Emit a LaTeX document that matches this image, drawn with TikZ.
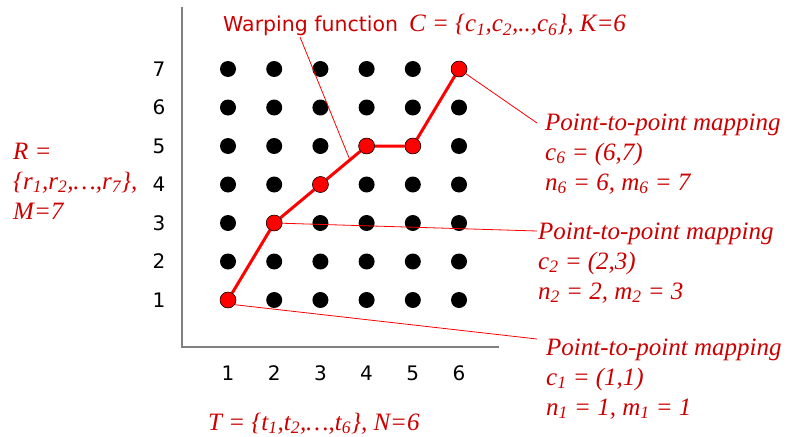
\documentclass[tikz,border=0pt]{standalone}
\usepackage{fontspec}
\setmainfont{Liberation Serif}
\newfontfamily\vsans{DejaVu Sans}
\definecolor{txtred}{RGB}{204,0,0}

\tikzset{
  gdot/.style={circle,fill=black,inner sep=0pt,minimum size=16pt},
  pdot/.style={circle,fill=red,draw=black,line width=0.5pt,inner sep=0pt,minimum size=16pt},
  numlbl/.style={font=\vsans\fontsize{20}{24}\selectfont,inner sep=0pt},
  mlabel/.style={text=txtred,font=\itshape\fontsize{25}{30}\selectfont,align=left,inner sep=0pt,anchor=base west},
  leader/.style={red,line width=0.8pt}
}

\begin{document}
\begin{tikzpicture}[x=1pt,y=-1pt]
	\useasboundingbox (0,0) rectangle (791,436);
	\draw[gray,line width=2pt] (182,7) -- (182,347) -- (499,347);
	% grid of time/reference pairs
	\foreach \i in {1,...,6}{
		\node[numlbl] (xl\i) at ({228+46.2*(\i-1)},373) {\i};
		\foreach \j in {1,...,7}
			\node[gdot] (p\i\j) at ({228+46.2*(\i-1)},{300-38.5*(\j-1)}) {};
	}
	\foreach \j in {1,...,7}
		\node[numlbl] (yl\j) at (159,{300-38.5*(\j-1)}) {\j};
	% warping path
	\draw[red,line width=3pt] (p11) -- (p23) -- (p34) -- coordinate[pos=0.69] (wf) (p45) -- (p55) -- (p67);
	\coordinate (wk) at (300,37);
	\coordinate (e6) at (537,123);
	\coordinate (e2) at (537,231);
	\coordinate (e1) at (537,339);
	\draw[leader] (wk) -- (wf);
	\draw[leader] (p67) -- (e6);
	\draw[leader] (p23) -- (e2);
	\draw[leader] (p11.-35) -- (e1);
	\foreach \p in {11,23,34,45,55,67}
		\node[pdot] (c\p) at (p\p) {};
	% labels (base = last line)
	\node[anchor=base west,text=txtred,inner sep=0pt] (warp) at (223,32)
		{{\vsans\fontsize{20.5}{24}\selectfont Warping function}\hspace{11pt}{\itshape\fontsize{25}{30}\selectfont C = \{c\textsubscript{1},c\textsubscript{2},..,c\textsubscript{6}\}, K=6}};
	\node[mlabel] (m6) at (545,190)
		{Point-to-point mapping\\ c\textsubscript{6} = (6,7)\\ n\textsubscript{6} = 6, m\textsubscript{6} = 7};
	\node[mlabel] (m2) at (538,299)
		{Point-to-point mapping\\ c\textsubscript{2} = (2,3)\\ n\textsubscript{2} = 2, m\textsubscript{2} = 3};
	\node[mlabel] (m1) at (546,415)
		{Point-to-point mapping\\ c\textsubscript{1} = (1,1)\\ n\textsubscript{1} = 1, m\textsubscript{1} = 1};
	\node[mlabel] (rset) at (13,219)
		{R =\\ \{r\textsubscript{1},r\textsubscript{2},\ldots,r\textsubscript{7}\},\\ M=7};
	\node[mlabel] (tset) at (208,430)
		{T = \{t\textsubscript{1},t\textsubscript{2},\ldots,t\textsubscript{6}\}, N=6};
\end{tikzpicture}
\end{document}
